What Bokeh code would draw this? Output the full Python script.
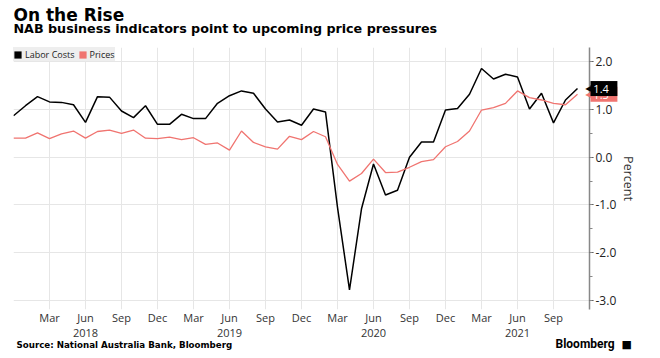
from bokeh.plotting import figure
from bokeh.models import (Range1d, Label, Legend, LegendItem, FixedTicker,
                          SingleIntervalTicker, NumeralTickFormatter)
from bokeh.embed import file_html
from bokeh.resources import INLINE

# ---- data -------------------------------------------------------------
months = ["2017-12",
          "2018-01", "2018-02", "2018-03", "2018-04", "2018-05", "2018-06",
          "2018-07", "2018-08", "2018-09", "2018-10", "2018-11", "2018-12",
          "2019-01", "2019-02", "2019-03", "2019-04", "2019-05", "2019-06",
          "2019-07", "2019-08", "2019-09", "2019-10", "2019-11", "2019-12",
          "2020-01", "2020-02", "2020-03", "2020-04", "2020-05", "2020-06",
          "2020-07", "2020-08", "2020-09", "2020-10", "2020-11", "2020-12",
          "2021-01", "2021-02", "2021-03", "2021-04", "2021-05", "2021-06",
          "2021-07", "2021-08", "2021-09", "2021-10", "2021-11"]

labor_costs = [0.87,
               1.08, 1.27, 1.16, 1.15, 1.10, 0.73, 1.27, 1.26, 0.97, 0.83, 1.08, 0.69,
               0.69, 0.90, 0.81, 0.81, 1.13, 1.29, 1.39, 1.34, 1.01, 0.74, 0.78, 0.67,
               1.01, 0.95, -1.05, -2.78, -1.08, -0.14, -0.79, -0.69, 0.00, 0.32, 0.32, 0.99,
               1.02, 1.32, 1.86, 1.64, 1.74, 1.68, 1.01, 1.34, 0.72, 1.20, 1.44]

prices = [0.40,
          0.40, 0.51, 0.39, 0.49, 0.55, 0.40, 0.54, 0.57, 0.50, 0.57, 0.40, 0.39,
          0.42, 0.37, 0.41, 0.27, 0.30, 0.15, 0.55, 0.31, 0.22, 0.17, 0.44, 0.37,
          0.54, 0.43, -0.15, -0.50, -0.34, -0.04, -0.32, -0.31, -0.21, -0.09, -0.05, 0.22,
          0.33, 0.55, 0.99, 1.04, 1.13, 1.39, 1.25, 1.20, 1.13, 1.10, 1.32]

tick_months = ["2018-03", "2018-06", "2018-09", "2018-12",
               "2019-03", "2019-06", "2019-09", "2019-12",
               "2020-03", "2020-06", "2020-09", "2020-12",
               "2021-03", "2021-06", "2021-09"]
tick_labels = ["Mar", "Jun\n2018", "Sep", "Dec",
               "Mar", "Jun\n2019", "Sep", "Dec",
               "Mar", "Jun\n2020", "Sep", "Dec",
               "Mar", "Jun\n2021", "Sep"]

title = "On the Rise"
subtitle = "NAB business indicators point to upcoming price pressures"
source = "Source: National Australia Bank, Bloomberg"
brand = "Bloomberg"

BLACK = "#000000"
RED = "#f07470"
FONT = "Open Sans"

x = list(range(len(months)))
tick_pos = [months.index(m) for m in tick_months]

Y0, Y1 = -3.19, 2.30
FRAME_H = 262
PX_PER_UNIT = FRAME_H / (Y1 - Y0)


def y_at(offset_px):
    """vertical value offset_px below (negative: above) the plot area's top edge"""
    return Y1 - offset_px / PX_PER_UNIT


# ---- figure -----------------------------------------------------------
p = figure(frame_width=576, frame_height=FRAME_H,
           x_range=Range1d(0, 48), y_range=Range1d(Y0, Y1),
           y_axis_location="right",
           output_backend="svg", toolbar_location=None,
           min_border_left=13, min_border_top=47,
           min_border_right=66, min_border_bottom=0,
           outline_line_color=None)
p.title.text = ""
p.title.standoff = 0

p.line(x, labor_costs, line_color=BLACK, line_width=1.5)
p.line(x, prices, line_color=RED, line_width=1.3)

# x axis
xa = p.xaxis[0]
xa.ticker = FixedTicker(ticks=tick_pos)
xa.major_label_overrides = {pos: lab for pos, lab in zip(tick_pos, tick_labels)}
xa.axis_line_color = None
xa.major_tick_line_color = None
xa.major_tick_in = 0
xa.major_tick_out = 0
xa.minor_tick_line_color = None
xa.major_label_standoff = 0
xa.major_label_text_font = FONT
xa.major_label_text_font_size = "11px"
xa.major_label_text_line_height = 1.0
xa.major_label_text_color = "#333333"

# y axis
ya = p.yaxis[0]
ya.ticker = SingleIntervalTicker(interval=1, num_minor_ticks=2)
ya.formatter = NumeralTickFormatter(format="0.0")
ya.axis_line_color = "#888888"
ya.axis_line_width = 1.5
ya.major_tick_line_color = "#444444"
ya.major_tick_in = 0
ya.major_tick_out = 4
ya.minor_tick_line_color = "#888888"
ya.minor_tick_in = 0
ya.minor_tick_out = 3
ya.major_label_text_font = FONT
ya.major_label_text_font_size = "12px"
ya.major_label_text_color = "#222222"
ya.major_label_standoff = 2
ya.axis_label = "Percent"
ya.axis_label_text_font = FONT
ya.axis_label_text_font_size = "12.5px"
ya.axis_label_text_font_style = "normal"
ya.axis_label_text_color = "#333333"
ya.axis_label_standoff = 1

p.xgrid.grid_line_color = "#e6e6e6"
p.ygrid.grid_line_color = "#e6e6e6"

# legend with square swatches (zero-area proxies at the first data point)
sq_l = p.quad(left=[x[0]], right=[x[0]], top=[labor_costs[0]], bottom=[labor_costs[0]],
              fill_color=BLACK, line_color=None)
sq_p = p.quad(left=[x[0]], right=[x[0]], top=[prices[0]], bottom=[prices[0]],
              fill_color=RED, line_color=None)
legend = Legend(items=[LegendItem(label="Labor Costs", renderers=[sq_l]),
                       LegendItem(label="Prices", renderers=[sq_p])],
                orientation="horizontal", location="top_left",
                margin=0, padding=4, spacing=3, label_standoff=3,
                glyph_width=9, glyph_height=9, label_height=14,
                label_text_font=FONT, label_text_font_size="9px",
                label_text_color="#222222",
                background_fill_color="#eeeeee", background_fill_alpha=1,
                border_line_color=None)
p.add_layout(legend)

# ---- texts outside the plot area (side panels are not clipped) ---------
p.add_layout(Label(x=0, y=y_at(-33), x_units="screen", y_units="data",
                   text=title, text_font="DejaVu Sans", text_font_style="bold",
                   text_font_size="17px", text_color="black",
                   text_baseline="alphabetic"), "above")
p.add_layout(Label(x=0, y=y_at(-19), x_units="screen", y_units="data",
                   text=subtitle, text_font="DejaVu Sans", text_font_style="bold",
                   text_font_size="12.7px", text_color="black",
                   text_baseline="alphabetic"), "above")

for val, col in [(prices[-1], RED), (labor_costs[-1], BLACK)]:
    p.add_layout(Label(x=578, y=val, x_units="screen", y_units="data",
                       text="\u25c0", text_color=col, text_font="DejaVu Sans",
                       text_font_size="8px", text_align="right",
                       text_baseline="middle"), "below")
    p.add_layout(Label(x=577, y=val, x_units="screen", y_units="data",
                       text=f"\u00a0{val:.1f}\u00a0\u00a0\u00a0", text_color="white",
                       text_font=FONT, text_font_size="11px",
                       text_baseline="middle", background_fill_color=col), "below")

p.add_layout(Label(x=3, y=y_at(297), x_units="screen", y_units="data",
                   text=source, text_font="DejaVu Sans", text_font_style="bold",
                   text_font_size="8.7px", text_color="black",
                   text_baseline="alphabetic"), "below")
p.add_layout(Label(x=542, y=y_at(296), x_units="screen", y_units="data",
                   text=brand, text_font="Roboto", text_font_style="bold",
                   text_font_size="12px", text_color="black",
                   text_baseline="alphabetic"), "below")
p.add_layout(Label(x=608, y=y_at(297), x_units="screen", y_units="data",
                   text="\u25a0", text_font="DejaVu Sans",
                   text_font_size="11px", text_color="black",
                   text_baseline="alphabetic"), "below")

open("out.html", "w").write(file_html(p, INLINE))
